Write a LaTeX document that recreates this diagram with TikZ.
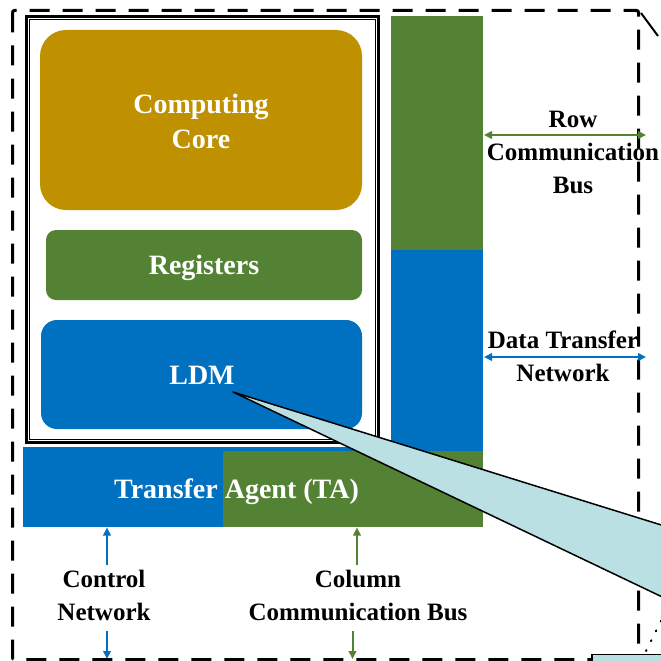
\documentclass[tikz,border=0pt]{standalone}
\usepackage{fontspec}
\setmainfont{Liberation Serif}
\usetikzlibrary{arrows.meta}
\definecolor{coregold}{HTML}{BF9000}
\definecolor{busgreen}{HTML}{548235}
\definecolor{netblue}{HTML}{0070C0}
\definecolor{zoomcyan}{HTML}{BAE0E4}

\begin{document}
\begin{tikzpicture}[x=1pt,y=-1pt,
  unit/.style={draw=none, inner sep=0pt, outer sep=0pt},
  bigtxt/.style={text=white, font=\fontsize{28}{35}\selectfont\bfseries, align=center, inner sep=0pt},
  lbl/.style={text=black, font=\fontsize{25}{33}\selectfont\bfseries, align=center, inner sep=0pt},
  link/.style={line width=2pt, -{Triangle[length=8pt,width=7.5pt]}},
  dlink/.style={line width=2pt, {Triangle[length=8pt,width=7.5pt]}-{Triangle[length=8pt,width=7.5pt]}},
]
\clip (0,0) rectangle (661,661);
\fill[white] (0,0) rectangle (661,661);

% core group boundary (dashed)
\draw[line width=3pt, dash pattern=on 20pt off 13pt, rounded corners=2pt] (12.5,10.5) rectangle (638.5,659.5);
% edges leaving the corners of the group
\draw[line width=2pt] (641,13) -- (658,36);
\draw[line width=2pt, line cap=round, dash pattern=on 1pt off 10pt] (646,651) -- (662,619);

% processing element frame (double line)
\draw[line width=3pt] (26.5,16.5) rectangle (378.5,442.5);
\draw[line width=0.8pt] (29.8,19.8) rectangle (375,439);

% functional units
\node[unit, fill=coregold, rounded corners=26pt, minimum width=322pt, minimum height=180pt] (core) at (201,120) {};
\node[unit, fill=busgreen, rounded corners=10pt, minimum width=316pt, minimum height=70pt] (regs) at (204,265) {};
\node[unit, fill=netblue, rounded corners=16pt, minimum width=321pt, minimum height=109pt] (ldm) at (201.5,374.5) {};

\node[bigtxt] (coretxt) at (201,121) {Computing\\Core};
\node[bigtxt, anchor=base] (regstxt) at (204,274) {Registers};
\node[bigtxt, anchor=base] (ldmtxt) at (202,384) {LDM};

% row bus / data network column
\node[unit, fill=busgreen, minimum width=92pt, minimum height=234pt] (rowcol) at (437,133) {};
\node[unit, fill=netblue, minimum width=92pt, minimum height=202pt] (netcol) at (437,351) {};

% transfer agent
\node[unit, fill=netblue, minimum width=460pt, minimum height=80pt] (ta) at (253,487) {};
\node[unit, fill=busgreen, minimum width=260pt, minimum height=76pt] (tagreen) at (353,489) {};
\node[bigtxt, anchor=base] (tatxt) at (236.5,498) {Transfer Agent (TA)};

% external links
\node[lbl] (rowlbl) at (573,152) {Row\\Communication\\Bus};
\node[lbl] (netlbl) at (563,356) {Data Transfer\\Network};
\node[lbl] (ctllbl) at (104,595) {Control\\Network};
\node[lbl] (collbl) at (358,595) {Column\\Communication Bus};

\coordinate (rowL) at (484,135);
\coordinate (rowR) at (646,135);
\coordinate (netL) at (484,357);
\coordinate (netR) at (646,357);
\draw[dlink, busgreen] (rowL) -- (rowR);
\draw[dlink, netblue] (netL) -- (netR);

\coordinate (ctlA) at (107,565);
\coordinate (ctlB) at (107,527.5);
\coordinate (ctlC) at (107,631);
\coordinate (ctlD) at (107,659);
\draw[link, netblue] (ctlA) -- (ctlB);
\draw[link, netblue] (ctlC) -- (ctlD);

\coordinate (colA) at (357,565);
\coordinate (colB) at (357,527.5);
\coordinate (colC) at (352.5,631);
\coordinate (colD) at (352.5,659);
\draw[link, busgreen] (colA) -- (colB);
\draw[link, busgreen] (colC) -- (colD);

% magnified view of the LDM
\coordinate (tip) at (233,392);
\coordinate (upper) at (700,537);
\coordinate (lower) at (700,615);
\fill[zoomcyan] (tip) -- (upper) -- (lower) -- cycle;
\draw[line width=1.5pt, line join=round] (upper) -- (tip) -- (lower);

\node[unit, draw=black, line width=1.5pt, fill=zoomcyan, anchor=north west, minimum width=90pt, minimum height=30pt] (detail) at (592,654.5) {};
\end{tikzpicture}
\end{document}
